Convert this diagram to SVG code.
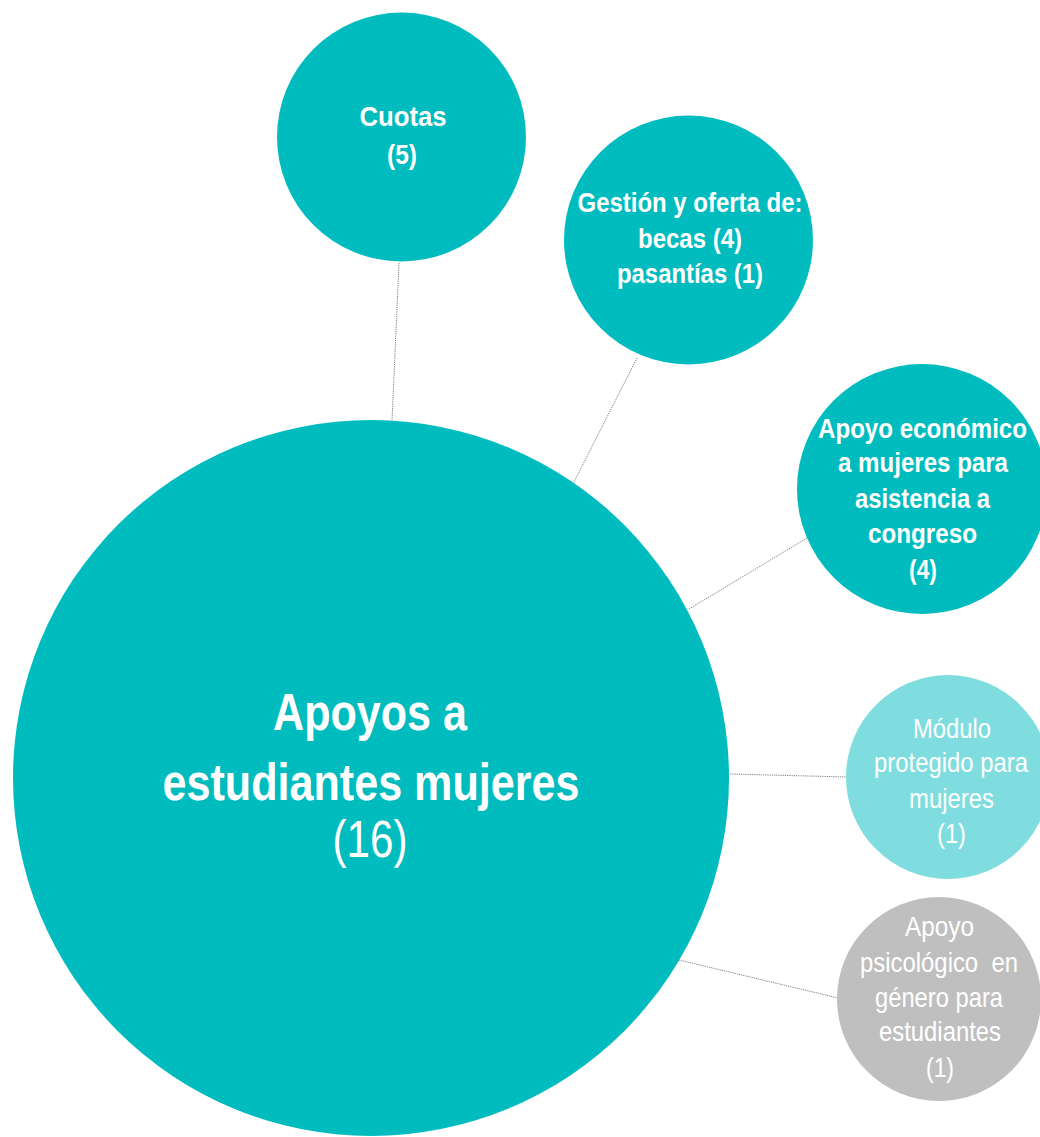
<svg xmlns="http://www.w3.org/2000/svg" width="1040" height="1137" viewBox="0 0 1040 1137">
<style>
.teal{fill:#00BCBE}
.light{fill:#80DDDF}
.gray{fill:#BFBFBF}
.conn{stroke:#808080;stroke-width:1;stroke-dasharray:1.2 1;fill:none}
text{font-family:"Liberation Sans Narrow","Liberation Sans",Arial,sans-serif;fill:#FFFFFF;text-anchor:middle}
.b{font-weight:bold;font-size:28px}
.r{font-weight:normal;font-size:28px}
.big{font-weight:bold;font-size:52px}
.bigr{font-weight:normal;font-size:52px}
</style>
<rect width="1040" height="1137" fill="#FFFFFF"/>
<g id="connectors">
<line class="conn" x1="399" y1="263" x2="392" y2="421"/>
<line class="conn" x1="637" y1="358" x2="573" y2="484"/>
<line class="conn" x1="807" y1="538" x2="689" y2="609"/>
<line class="conn" x1="730" y1="774" x2="847" y2="777"/>
<line class="conn" x1="679" y1="960" x2="838" y2="998"/>
</g>
<g id="node-main">
<circle class="teal" cx="371" cy="778" r="358"/>
<text class="big" x="370" y="730" textLength="194" lengthAdjust="spacingAndGlyphs">Apoyos a</text>
<text class="big" x="371" y="800" textLength="417" lengthAdjust="spacingAndGlyphs">estudiantes mujeres</text>
<text class="bigr" x="370" y="857" textLength="75" lengthAdjust="spacingAndGlyphs">(16)</text>
</g>
<g id="node-cuotas">
<circle class="teal" cx="401.5" cy="137" r="124.5"/>
<text class="b" x="403" y="126" font-size="29" textLength="87" lengthAdjust="spacingAndGlyphs">Cuotas</text>
<text class="b" x="402" y="164" font-size="29" textLength="30" lengthAdjust="spacingAndGlyphs">(5)</text>
</g>
<g id="node-gestion">
<circle class="teal" cx="688.5" cy="240" r="124.5"/>
<text class="b" x="690" y="212" textLength="225" lengthAdjust="spacingAndGlyphs">Gestión y oferta de:</text>
<text class="b" x="690" y="248" textLength="104" lengthAdjust="spacingAndGlyphs">becas (4)</text>
<text class="b" x="690" y="283" textLength="146" lengthAdjust="spacingAndGlyphs">pasantías (1)</text>
</g>
<g id="node-apoyo-economico">
<circle class="teal" cx="922" cy="489" r="125"/>
<text class="b" x="922.5" y="438" textLength="209" lengthAdjust="spacingAndGlyphs">Apoyo económico</text>
<text class="b" x="923" y="472" textLength="170" lengthAdjust="spacingAndGlyphs">a mujeres para</text>
<text class="b" x="922.5" y="508" textLength="135" lengthAdjust="spacingAndGlyphs">asistencia a</text>
<text class="b" x="922.5" y="543" textLength="109" lengthAdjust="spacingAndGlyphs">congreso</text>
<text class="b" x="923" y="579" textLength="28" lengthAdjust="spacingAndGlyphs">(4)</text>
</g>
<g id="node-modulo">
<circle class="light" cx="948" cy="777" r="102"/>
<text class="r" x="952" y="738" textLength="78" lengthAdjust="spacingAndGlyphs">Módulo</text>
<text class="r" x="951" y="772" textLength="154" lengthAdjust="spacingAndGlyphs">protegido para</text>
<text class="r" x="951.5" y="808" textLength="85" lengthAdjust="spacingAndGlyphs">mujeres</text>
<text class="r" x="951.5" y="843" textLength="29" lengthAdjust="spacingAndGlyphs">(1)</text>
</g>
<g id="node-psicologico">
<circle class="gray" cx="939" cy="999" r="102"/>
<text class="r" x="939.5" y="936" textLength="69" lengthAdjust="spacingAndGlyphs">Apoyo</text>
<text class="r" x="939" y="972" textLength="158" lengthAdjust="spacingAndGlyphs" xml:space="preserve">psicológico  en</text>
<text class="r" x="939" y="1007" textLength="128" lengthAdjust="spacingAndGlyphs">género para</text>
<text class="r" x="940" y="1041" textLength="122" lengthAdjust="spacingAndGlyphs">estudiantes</text>
<text class="r" x="940" y="1077" textLength="28" lengthAdjust="spacingAndGlyphs">(1)</text>
</g>
</svg>
